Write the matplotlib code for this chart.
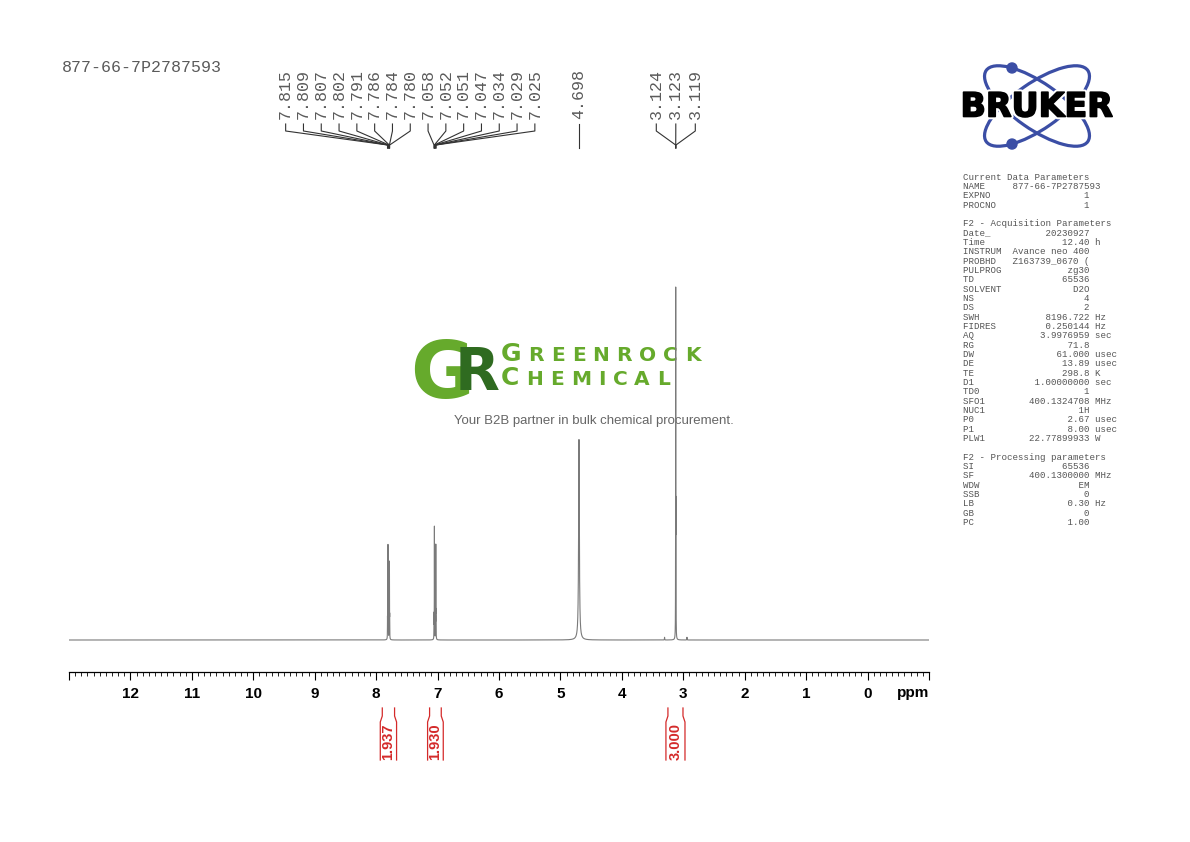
#!/usr/bin/env python3
"""
1H NMR spectrum (Bruker TopSpin style page) redrawn with matplotlib.
Writes out.png (1190x842).
"""
import numpy as np
import matplotlib
matplotlib.use('Agg')
import matplotlib.pyplot as plt
import matplotlib.patheffects as pe
from matplotlib.patches import Ellipse, Circle
from matplotlib.ticker import MultipleLocator

W, H = 1190, 842
MONO = 'Liberation Mono'
SANS = 'Liberation Sans'

sample_id = '877-66-7P2787593'

# labelled lines: shift (ppm), height (arb.), half width (ppm)
peak_ppm = [7.815, 7.809, 7.807, 7.802, 7.791, 7.786, 7.784, 7.780,
            7.058, 7.052, 7.051, 7.047, 7.034, 7.029, 7.025,
            4.698,
            3.124, 3.123, 3.119]
peak_int = [0.05, 0.19, 0.19, 0.045, 0.045, 0.155, 0.155, 0.05,
            0.06, 0.17, 0.17, 0.05, 0.05, 0.24, 0.06,
            0.52,
            0.5, 0.55, 0.3]
peak_hwhm = [0.0012] * 15 + [0.007] + [0.0012] * 3

# small unlabelled lines (satellites)
extra_ppm = [3.305, 2.940]
extra_int = [0.007, 0.007]
extra_hwhm = [0.002, 0.002]

# peak label groups (indices into peak_ppm) and label pitch in px
label_groups = [list(range(0, 15)), [15], [16, 17, 18]]
label_pitch = [17.8, 0.0, 19.5]

# integrals
integ_ranges = [(7.90, 7.70), (7.13, 6.94), (3.25, 3.005)]
integ_values = ['1.937', '1.930', '3.000']

# acquisition / processing parameters
params = [
    ('Current Data Parameters', None, None),
    ('NAME', '877-66-7P2787593', ''),
    ('EXPNO', '1', ''),
    ('PROCNO', '1', ''),
    None,
    ('F2 - Acquisition Parameters', None, None),
    ('Date_', '20230927', ''),
    ('Time', '12.40', 'h'),
    ('INSTRUM', 'Avance neo 400', ''),
    ('PROBHD', 'Z163739_0670 (', ''),
    ('PULPROG', 'zg30', ''),
    ('TD', '65536', ''),
    ('SOLVENT', 'D2O', ''),
    ('NS', '4', ''),
    ('DS', '2', ''),
    ('SWH', '8196.722', 'Hz'),
    ('FIDRES', '0.250144', 'Hz'),
    ('AQ', '3.9976959', 'sec'),
    ('RG', '71.8', ''),
    ('DW', '61.000', 'usec'),
    ('DE', '13.89', 'usec'),
    ('TE', '298.8', 'K'),
    ('D1', '1.00000000', 'sec'),
    ('TD0', '1', ''),
    ('SFO1', '400.1324708', 'MHz'),
    ('NUC1', '1H', ''),
    ('P0', '2.67', 'usec'),
    ('P1', '8.00', 'usec'),
    ('PLW1', '22.77899933', 'W'),
    None,
    ('F2 - Processing parameters', None, None),
    ('SI', '65536', ''),
    ('SF', '400.1300000', 'MHz'),
    ('WDW', 'EM', ''),
    ('SSB', '0', ''),
    ('LB', '0.30', 'Hz'),
    ('GB', '0', ''),
    ('PC', '1.00', ''),
]

# ---------------------------------------------------------------- spectrum
ppm = np.linspace(13, -1, 70001)
spec = np.zeros_like(ppm)
for p, h, w in zip(peak_ppm + extra_ppm, peak_int + extra_int, peak_hwhm + extra_hwhm):
    spec += h / (1.0 + ((ppm - p) / w) ** 2)

fig = plt.figure(figsize=(W / 100, H / 100), dpi=100)

# overlay in pixel units (y down) for page furniture
ov = fig.add_axes([0, 0, 1, 1])
ov.set_xlim(0, W)
ov.set_ylim(H, 0)
ov.axis('off')

ax_l, ax_r, ax_b, ax_t = 69, 929, 672, 150
base_px, top_px = 640, 287
ax = fig.add_axes([ax_l / W, 1 - ax_b / H, (ax_r - ax_l) / W, (ax_b - ax_t) / H])
ax.patch.set_alpha(0)
ax.plot(ppm, spec, color='#7a7a7a', lw=0.8)
ax.set_xlim(13, -1)
k = spec.max() / (base_px - top_px)
ax.set_ylim(-(ax_b - base_px) * k, (base_px - ax_t) * k)
for s in ('left', 'right', 'top'):
    ax.spines[s].set_visible(False)
ax.spines['bottom'].set_linewidth(0.9)
ax.set_yticks([])
majors = np.arange(-1, 14)
ax.set_xticks(majors)
ax.set_xticklabels(['' if v in (-1, 13) else str(v) for v in majors])
ax.xaxis.set_minor_locator(MultipleLocator(0.1))
ax.tick_params(axis='x', which='major', length=6, width=0.8, pad=5, labelsize=11)
ax.tick_params(axis='x', which='minor', length=3, width=0.6)
for lab in ax.get_xticklabels():
    lab.set_fontweight('bold')
    lab.set_family(SANS)
ov.text(929, 693, 'ppm', ha='right', va='center', fontsize=11,
        fontweight='bold', family=SANS)


def ppm2px(v):
    return ax.transData.transform((v, 0))[0]


# ---------------------------------------------------------------- peak labels
lab_col = '#5a5a5a'
for grp, pitch in zip(label_groups, label_pitch):
    pxs = np.array([ppm2px(peak_ppm[i]) for i in grp])
    n = len(grp)
    lxs = pxs.mean() + (np.arange(n) - (n - 1) / 2) * pitch
    for i, lx, px in zip(grp, lxs, pxs):
        ov.text(lx, 119, f'{peak_ppm[i]:.3f}', rotation=90, ha='center',
                va='bottom', fontsize=12, family=MONO, color=lab_col)
        ov.plot([lx, lx, px, px], [124, 131, 145, 148], color='#333333', lw=0.8)

ov.text(62, 68, sample_id, ha='left', va='center', fontsize=12,
        family=MONO, color=lab_col)

# ---------------------------------------------------------------- integrals
red = '#d42a2a'
for (p1, p2), val in zip(integ_ranges, integ_values):
    x1, x2 = ppm2px(p1), ppm2px(p2)
    ov.plot([x1, x1, x1 - 2, x1 - 2], [708, 716, 722, 760], color=red, lw=0.9)
    ov.plot([x2, x2, x2 + 2, x2 + 2], [708, 716, 722, 760], color=red, lw=0.9)
    ov.text((x1 + x2) / 2, 742, val, rotation=90, ha='center', va='center',
            fontsize=10.5, fontweight='bold', family=SANS, color=red)

# ---------------------------------------------------------------- parameters
py0, dpy = 177, 9.34
for j, row in enumerate(params):
    if row is None:
        continue
    key, val, unit = row
    if val is None:
        line = key
    else:
        line = key.ljust(9) + val.rjust(14) + ((' ' + unit) if unit else '')
    ov.text(963, py0 + j * dpy, line, ha='left', va='center', fontsize=6.6,
            family=MONO, color='#555555')

# ---------------------------------------------------------------- Bruker logo
cx, cy = 1037, 106
ea, eb, eang = 62, 23, 35
blue = '#3b4ea5'
th = np.deg2rad(eang)
tt = np.linspace(0, 2 * np.pi, 721)
for sgn in (1, -1):
    ov.add_patch(Ellipse((cx, cy), 2 * ea, 2 * eb, angle=sgn * eang,
                         fill=False, ec=blue, lw=2.3))
    # dot where this ellipse passes 25 px left of centre, on its outer branch
    ex = ea * np.cos(tt) * np.cos(sgn * th) - eb * np.sin(tt) * np.sin(sgn * th)
    ey = ea * np.cos(tt) * np.sin(sgn * th) + eb * np.sin(tt) * np.cos(sgn * th)
    outer = (ey * sgn) < 0
    j = np.argmin(np.abs(ex + 25) + 1e3 * ~outer)
    ov.add_patch(Circle((cx + ex[j], cy + ey[j]), 5, color=blue, zorder=3))
ov.text(cx, 107, 'BRUKER', ha='center', va='center', fontsize=24,
        fontweight='bold', family='DejaVu Sans', color='black', zorder=4,
        path_effects=[pe.Stroke(linewidth=4, foreground='white'),
                      pe.Stroke(linewidth=1.2, foreground='black'),
                      pe.Normal()])

# ---------------------------------------------------------------- watermark
green = '#66aa2c'
dgreen = '#2f6b20'
ov.text(410, 398, 'G', ha='left', va='baseline', fontsize=56,
        fontweight='bold', family='DejaVu Sans', color=green)
ov.text(455, 390, 'R', ha='left', va='baseline', fontsize=42,
        fontweight='bold', family='DejaVu Sans', color=dgreen)

rend = fig.canvas.get_renderer()


def spaced_word(x0, y, word, big, small, gap, color):
    x = x0
    for n, ch in enumerate(word):
        t = ov.text(x, y, ch, ha='left', va='baseline',
                    fontsize=big if n == 0 else small, fontweight='bold',
                    family='DejaVu Sans', color=color)
        x += t.get_window_extent(renderer=rend).width + gap


spaced_word(501, 361, 'GREENROCK', 18, 14.5, 7, green)
spaced_word(501, 385, 'CHEMICAL', 18, 14.5, 7, green)
ov.text(594, 421, 'Your B2B partner in bulk chemical procurement.',
        ha='center', va='center', fontsize=9.5, family=SANS, color='#666666')

fig.savefig('out.png', dpi=100)
